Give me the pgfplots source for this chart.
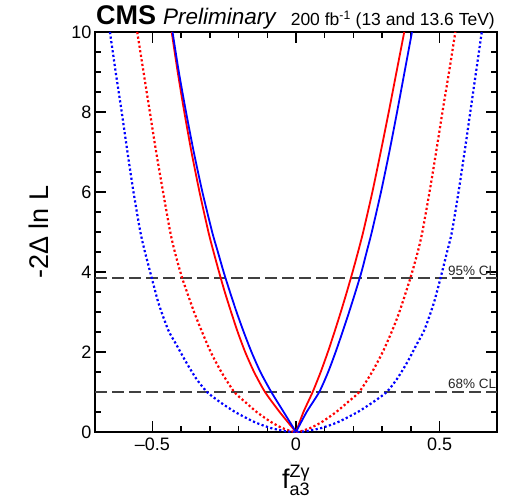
\documentclass[border=0pt]{standalone}
\usepackage{pgfplots}
\pgfplotsset{compat=1.18}
\usepackage{fontspec}
\setmainfont{Liberation Sans}
\begin{document}
\begin{tikzpicture}
\useasboundingbox (-95pt,-68pt) rectangle (413pt,432pt);
\begin{axis}[name=ax, at={(0,0)}, anchor=south west,
  scale only axis, width=402pt, height=400pt,
  xmin=-0.7, xmax=0.7, ymin=0, ymax=10,
  xtick={-0.5,0,0.5}, xticklabels={\textendash0.5,0,0.5},
  minor x tick num=4,
  ytick={0,2,4,6,8,10}, minor y tick num=3,
  tick align=inside, major tick length=11pt, minor tick length=6pt,
  every tick/.style={black, line width=1.3pt},
  axis line style={line width=1.8pt},
  tick label style={font=\fontsize{18}{20}\selectfont},
  /pgf/number format/assume math mode=true,
  xticklabel style={yshift=-2pt},
]
\addplot[black!75, line width=1.8pt, dash pattern=on 12pt off 5pt, forget plot] coordinates {(-0.7,3.84) (0.7,3.84)};
\addplot[black!75, line width=1.8pt, dash pattern=on 12pt off 5pt, forget plot] coordinates {(-0.7,1) (0.7,1)};
% red dotted
\addplot[red, line width=2.2pt, dash pattern=on 2.2pt off 2.4pt, smooth, tension=0.4] coordinates {
(-0.553,10) (-0.531,9) (-0.509,8) (-0.487,7) (-0.463,6) (-0.438,5) (-0.422,4.5) (-0.396,3.84) (-0.355,3) (-0.327,2.5) (-0.297,2) (-0.26,1.5) (-0.215,1) (-0.177,0.75) (-0.137,0.5) (-0.087,0.25) (-0.048,0.1) (-0.017,0.02) (0,0)
(0.018,0.02) (0.05,0.1) (0.09,0.25) (0.14,0.5) (0.181,0.75) (0.22,1) (0.265,1.5) (0.302,2) (0.333,2.5) (0.36,3) (0.398,3.84) (0.424,4.5) (0.44,5) (0.465,6) (0.488,7) (0.51,8) (0.533,9) (0.555,10)};
% blue dotted
\addplot[blue, line width=2.2pt, dash pattern=on 2.2pt off 2.4pt, smooth, tension=0.4] coordinates {
(-0.648,10) (-0.628,9) (-0.607,8) (-0.587,7) (-0.566,6) (-0.542,5) (-0.526,4.5) (-0.502,3.84) (-0.478,3.2) (-0.445,2.55) (-0.418,2.2) (-0.383,1.75) (-0.348,1.34) (-0.31,1) (-0.265,0.75) (-0.212,0.5) (-0.145,0.25) (-0.088,0.1) (-0.036,0.02) (0,0)
(0.036,0.02) (0.089,0.1) (0.147,0.25) (0.215,0.5) (0.269,0.75) (0.316,1) (0.353,1.34) (0.388,1.75) (0.421,2.2) (0.447,2.55) (0.479,3.2) (0.503,3.84) (0.526,4.5) (0.543,5) (0.566,6) (0.587,7) (0.607,8) (0.627,9) (0.647,10)};
% red solid
\addplot[red, line width=1.8pt, smooth, tension=0.4] coordinates {
(-0.433,10) (-0.412,9) (-0.389,8) (-0.364,7) (-0.336,6) (-0.305,5) (-0.287,4.5) (-0.268,4) (-0.248,3.5) (-0.226,3) (-0.203,2.5) (-0.177,2) (-0.146,1.5) (-0.108,1) (-0.057,0.5) (0,0)};
\addplot[red, line width=1.8pt, smooth, tension=0.4] coordinates {
(0,0) (0.026,0.5) (0.058,1) (0.086,1.5) (0.111,2) (0.134,2.5) (0.156,3) (0.177,3.5) (0.197,4) (0.216,4.5) (0.234,5) (0.266,6) (0.295,7) (0.323,8) (0.35,9) (0.377,10)};
% blue solid
\addplot[blue, line width=1.8pt, smooth, tension=0.4] coordinates {
(-0.43,10) (-0.408,9) (-0.383,8) (-0.356,7) (-0.326,6) (-0.292,5) (-0.272,4.5) (-0.252,4) (-0.23,3.5) (-0.207,3) (-0.182,2.5) (-0.155,2) (-0.124,1.5) (-0.086,1) (-0.043,0.5) (0,0)};
\addplot[blue, line width=1.8pt, smooth, tension=0.4] coordinates {
(0,0) (0.037,0.5) (0.081,1) (0.112,1.5) (0.138,2) (0.162,2.5) (0.185,3) (0.207,3.5) (0.228,4) (0.246,4.5) (0.264,5) (0.296,6) (0.325,7) (0.352,8) (0.378,9) (0.404,10)};
\node[anchor=base east, inner sep=0pt, font=\fontsize{13.5}{14}\selectfont, text=black!85] at (axis cs:0.698,3.92) {95\% CL};
\node[anchor=base east, inner sep=0pt, font=\fontsize{13.5}{14}\selectfont, text=black!85] at (axis cs:0.698,1.08) {68\% CL};
\end{axis}
\node[anchor=base west, inner sep=0pt, font=\fontsize{27}{28}\bfseries] at ([xshift=1pt,yshift=7pt]ax.north west) {CMS};
\node[anchor=base west, inner sep=0pt, font=\fontsize{22.5}{23}\itshape] at ([xshift=68pt,yshift=7pt]ax.north west) {Preliminary};
\node[anchor=base east, inner sep=0pt, font=\fontsize{17.5}{18}\selectfont] at ([xshift=-2pt,yshift=6pt]ax.north east) {200 fb\textsuperscript{-1} (13 and 13.6 TeV)};
\node[rotate=90, inner sep=0pt, font=\fontsize{27}{28}\selectfont] at ([xshift=-56pt]ax.west) {-2Δ ln L};
\node[anchor=base, inner sep=0pt, font=\fontsize{27}{28}\selectfont] at ([yshift=-56pt]ax.south) {f\makebox[0pt][l]{\raisebox{11pt}{\fontsize{18}{18}\selectfont Zγ}}\raisebox{-7pt}{\fontsize{18}{18}\selectfont a3}};
\end{tikzpicture}
\end{document}
